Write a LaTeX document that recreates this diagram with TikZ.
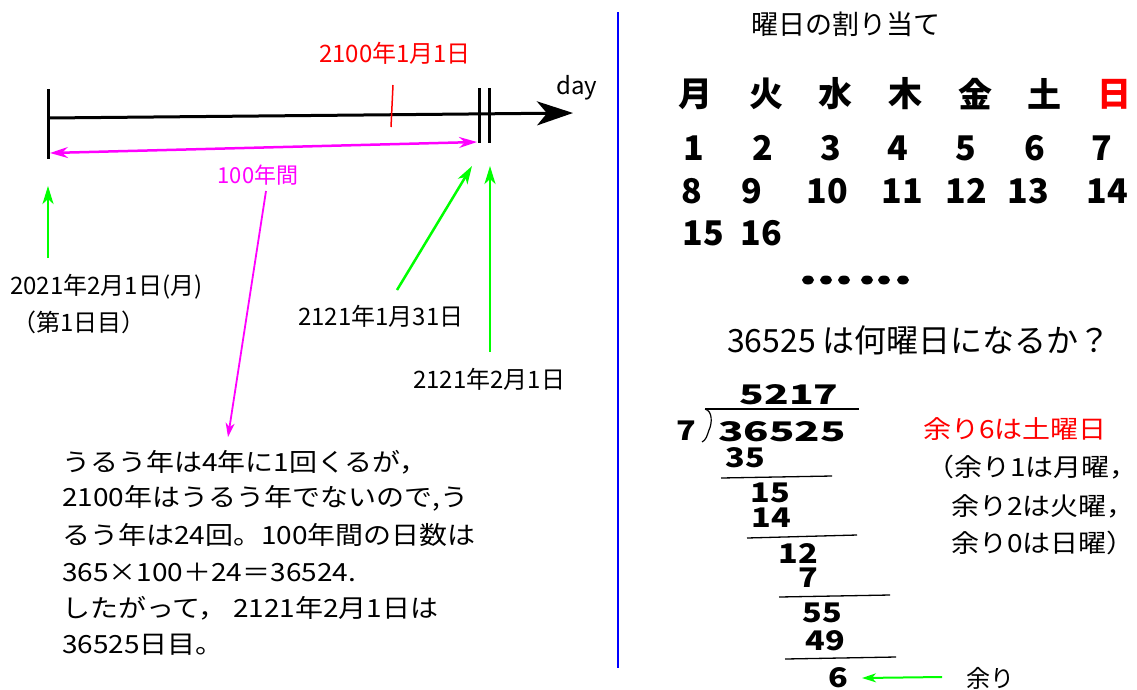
\documentclass[tikz,border=0pt]{standalone}
\usepackage{fontspec}
\usepackage{graphicx}
\setmainfont{Noto Sans CJK JP}
\usetikzlibrary{arrows.meta}
\definecolor{mag}{RGB}{255,0,255}
\definecolor{grn}{RGB}{0,255,0}
\definecolor{redc}{RGB}{255,0,0}
\definecolor{blu}{RGB}{0,0,255}
\newcommand{\wide}[1]{\scalebox{1.12}[1]{#1}}
\begin{document}
\begin{tikzpicture}[x=1pt,y=-1pt,
  lbl/.style={font=\fontsize{24}{28}\selectfont, inner sep=0pt},
  para/.style={font=\fontsize{25}{30}\selectfont, inner sep=0pt, anchor=west},
  cal/.style={font=\fontsize{34}{40}\selectfont\bfseries, inner sep=0pt},
  divn/.style={font=\fontsize{27}{30}\selectfont\bfseries, inner sep=0pt},
  rem/.style={font=\fontsize{25}{30}\selectfont, inner sep=0pt, anchor=west},
  tick/.style={line width=3pt},
  garrow/.style={draw=grn, line width=2.5pt, -{Stealth[length=18pt,width=11pt,inset=5pt]}},
  marrow/.style={draw=mag, line width=2.5pt, {Stealth[length=18pt,width=11pt,inset=6pt]}-{Stealth[length=18pt,width=11pt,inset=6pt]}},
  mline/.style={draw=mag, line width=1.8pt, -{Stealth[length=14pt,width=9pt,inset=4pt]}},
  divline/.style={line width=1.3pt},
  dot/.style={fill=black, draw=none}
]
\useasboundingbox (0,0) rectangle (1137,689);

% ---------- timeline ----------
\coordinate (L) at (48,118);
\coordinate (R) at (573,113);
\draw[line width=3pt, -{Stealth[length=36pt,width=24pt,inset=10pt]}] (L) -- (R);
\coordinate (t0a) at (48,89);  \coordinate (t0b) at (48,159);
\draw[tick] (t0a) -- (t0b);
\coordinate (rta) at (393,85); \coordinate (rtb) at (391,127);
\draw[draw=redc, line width=1.5pt] (rta) -- (rtb);
\coordinate (d1a) at (479,88); \coordinate (d1b) at (479,143);
\coordinate (d2a) at (489,88); \coordinate (d2b) at (489,143);
\draw[tick] (d1a) -- (d1b);
\draw[tick] (d2a) -- (d2b);
\node[lbl, text=redc] (red) at (395,53) {2100年1月1日};
\node[lbl] (day) at (577,88) {day};

\coordinate (ma) at (50,153); \coordinate (mb) at (477,142);
\draw[marrow] (ma) -- (mb);
\node[lbl, font=\fontsize{22}{26}\selectfont, text=mag] (hund) at (258,175) {100年間};
\coordinate (ms) at (266,191); \coordinate (me) at (228,437);
\draw[mline] (ms) -- (me);

% labels and green arrows
\node[lbl, anchor=west] (l1) at (10,287) {2021年2月1日(月)};
\node[lbl, anchor=west] (l1b) at (12,322) {（第1日目）};
\node[lbl, anchor=west] (l2) at (298,316) {2121年1月31日};
\node[lbl, anchor=west] (l3) at (413,379) {2121年2月1日};
\coordinate (g1s) at (48,258); \coordinate (g1e) at (48,186);
\coordinate (g2s) at (397,290); \coordinate (g2e) at (472,166);
\coordinate (g3s) at (490,352); \coordinate (g3e) at (490,166);
\draw[garrow] (g1s) -- (g1e);
\draw[garrow] (g2s) -- (g2e);
\draw[garrow] (g3s) -- (g3e);

% paragraph
\node[para] (p1) at (62,462) {\wide{うるう年は4年に1回くるが，}};
\node[para] (p2) at (62,498) {\wide{2100年はうるう年でないので,う}};
\node[para] (p3) at (62,535) {\wide{るう年は24回。100年間の日数は}};
\node[para] (p4) at (62,572) {\wide{365×100＋24＝36524.}};
\node[para] (p5) at (62,608) {\wide{したがって， 2121年2月1日は}};
\node[para] (p6) at (62,645) {\wide{36525日目。}};

% separator
\coordinate (sa) at (618,12); \coordinate (sb) at (618,668);
\draw[draw=blu, line width=1.5pt] (sa) -- (sb);

% ---------- calendar ----------
\node[lbl, font=\fontsize{27}{30}\selectfont] (title) at (846,24) {曜日の割り当て};
\node[cal] (h1) at (695,94) {月};
\node[cal] (h2) at (766,94) {火};
\node[cal] (h3) at (835,94) {水};
\node[cal] (h4) at (905,94) {木};
\node[cal] (h5) at (975,94) {金};
\node[cal] (h6) at (1044,94) {土};
\node[cal, text=redc] (h7) at (1114,94) {日};
\node[cal] (c1) at (694,148) {1};
\node[cal] (c2) at (763,148) {2};
\node[cal] (c3) at (831,148) {3};
\node[cal] (c4) at (898,148) {4};
\node[cal] (c5) at (966,148) {5};
\node[cal] (c6) at (1035,148) {6};
\node[cal] (c7) at (1102,148) {7};
\node[cal] (c8) at (692,191) {8};
\node[cal] (c9) at (752,191) {9};
\node[cal] (c10) at (827,191) {10};
\node[cal] (c11) at (902,191) {11};
\node[cal] (c12) at (966,191) {12};
\node[cal] (c13) at (1028,191) {13};
\node[cal] (c14) at (1107,191) {14};
\node[cal] (c15) at (703,233) {15};
\node[cal] (c16) at (761,233) {16};
\foreach \x in {808,826,844,867,884,903}
  \fill[dot] (\x,280) ellipse [x radius=6pt, y radius=4.5pt];

% ---------- division ----------
\node[lbl, font=\fontsize{32}{36}\selectfont] (q) at (919,340) {36525 は何曜日になるか？};
\node[divn] (quot) at (789,395) {\scalebox{1.5}[1]{5217}};
\coordinate (ba) at (705,409); \coordinate (bb) at (859,409);
\draw[divline] (ba) -- (bb);
\coordinate (bk) at (702,442);
\draw[line width=1.2pt] (ba) .. controls (713,411) and (712,424) .. (709,430) .. controls (707,436) and (706,440) .. (bk);
\node[divn] (dv) at (686,431) {\scalebox{1.2}[1]{7}};
\node[divn] (dd) at (782,432) {\scalebox{1.55}[1]{36525}};
\node[divn] (s1) at (745,458) {\scalebox{1.2}[1]{35}};
\coordinate (la1) at (721,478); \coordinate (lb1) at (832,476);
\draw[divline] (la1) -- (lb1);
\node[divn] (s2) at (770,493) {\scalebox{1.2}[1]{15}};
\node[divn] (s3) at (771,518) {\scalebox{1.2}[1]{14}};
\coordinate (la2) at (747,538); \coordinate (lb2) at (857,535);
\draw[divline] (la2) -- (lb2);
\node[divn] (s4) at (798,553) {\scalebox{1.2}[1]{12}};
\node[divn] (s5) at (808,578) {\scalebox{1.2}[1]{7}};
\coordinate (la3) at (779,597); \coordinate (lb3) at (890,595);
\draw[divline] (la3) -- (lb3);
\node[divn] (s6) at (822,613) {\scalebox{1.2}[1]{55}};
\node[divn] (s7) at (825,641) {\scalebox{1.2}[1]{49}};
\coordinate (la4) at (785,659); \coordinate (lb4) at (896,657);
\draw[divline] (la4) -- (lb4);
\node[divn] (rmd) at (838,678) {\scalebox{1.2}[1]{6}};
\node[lbl] (amari) at (990,678) {余り};
\coordinate (ga) at (942,677); \coordinate (gb) at (862,678);
\draw[draw=grn, line width=2pt, -{Stealth[length=14pt,width=9pt,inset=4pt]}] (ga) -- (gb);
\node[rem, text=redc] (r0) at (923,429) {\wide{余り6は土曜日}};
\node[rem] (r1) at (926,467) {\wide{（余り1は月曜，}};
\node[rem] (r2) at (951,506) {\wide{余り2は火曜，}};
\node[rem] (r3) at (951,543) {\wide{余り0は日曜）}};
\end{tikzpicture}
\end{document}
